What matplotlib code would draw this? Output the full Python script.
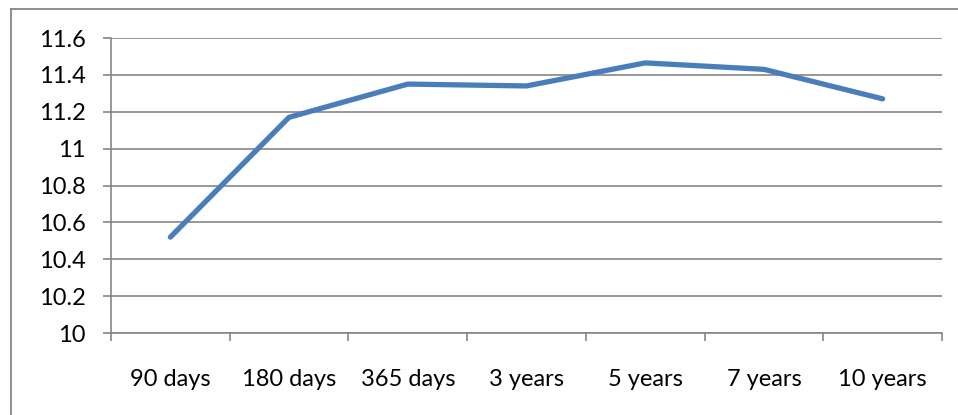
import matplotlib.pyplot as plt
from matplotlib.lines import Line2D
import numpy as np

plt.rcParams["font.family"] = ["Lato", "DejaVu Sans"]

# tenor buckets and the value for each one
tenors = ["90 days", "180 days", "365 days", "3 years", "5 years", "7 years", "10 years"]
rates = [10.52, 11.17, 11.35, 11.34, 11.465, 11.43, 11.27]
y_ticks = [10, 10.2, 10.4, 10.6, 10.8, 11, 11.2, 11.4, 11.6]
y_labels = ["10", "10.2", "10.4", "10.6", "10.8", "11", "11.2", "11.4", "11.6"]

LINE_BLUE = "#4a7ebb"
GRID_GRAY = "#868686"

W, H = 958, 415
fig = plt.figure(figsize=(W / 100, H / 100), dpi=100)
ax = fig.add_axes([111 / W, 1 - 333 / H, (942 - 111) / W, (333 - 38) / H])

x = np.arange(len(tenors))
ax.plot(x, rates, color=LINE_BLUE, lw=3.8, solid_capstyle="round", solid_joinstyle="round", zorder=3)

ax.set_xlim(-0.5, len(tenors) - 0.5)
ax.set_ylim(10, 11.6)
ax.set_yticks(y_ticks)
ax.set_yticklabels(y_labels)
ax.yaxis.grid(True, color=GRID_GRAY, lw=1.2)
ax.set_axisbelow(True)

# category ticks sit on the boundaries between buckets, labels in the middle
ax.set_xticks(np.arange(len(tenors) + 1) - 0.5)
ax.set_xticklabels([])
ax.set_xticks(x, minor=True)
ax.set_xticklabels(tenors, minor=True)
ax.tick_params(axis="x", which="major", direction="out", length=6, width=1.2, color=GRID_GRAY)
ax.tick_params(axis="x", which="minor", length=0, pad=26, labelsize=17, labelcolor="black")
ax.tick_params(axis="y", direction="out", length=6, width=1.2, color=GRID_GRAY,
               pad=12, labelsize=17, labelcolor="black")

for side in ["top", "right"]:
    ax.spines[side].set_visible(False)
for side in ["left", "bottom"]:
    ax.spines[side].set_color(GRID_GRAY)
    ax.spines[side].set_linewidth(1.2)

# outer chart frame (only the left and top edges fall inside the canvas)
fig.add_artist(Line2D([10.5 / W, 10.5 / W], [0, 1 - 9.5 / H], transform=fig.transFigure,
                      color=GRID_GRAY, lw=1.3))
fig.add_artist(Line2D([10.5 / W, 1], [1 - 9.5 / H, 1 - 9.5 / H], transform=fig.transFigure,
                      color=GRID_GRAY, lw=1.3))

fig.savefig("out.png", dpi=100)
